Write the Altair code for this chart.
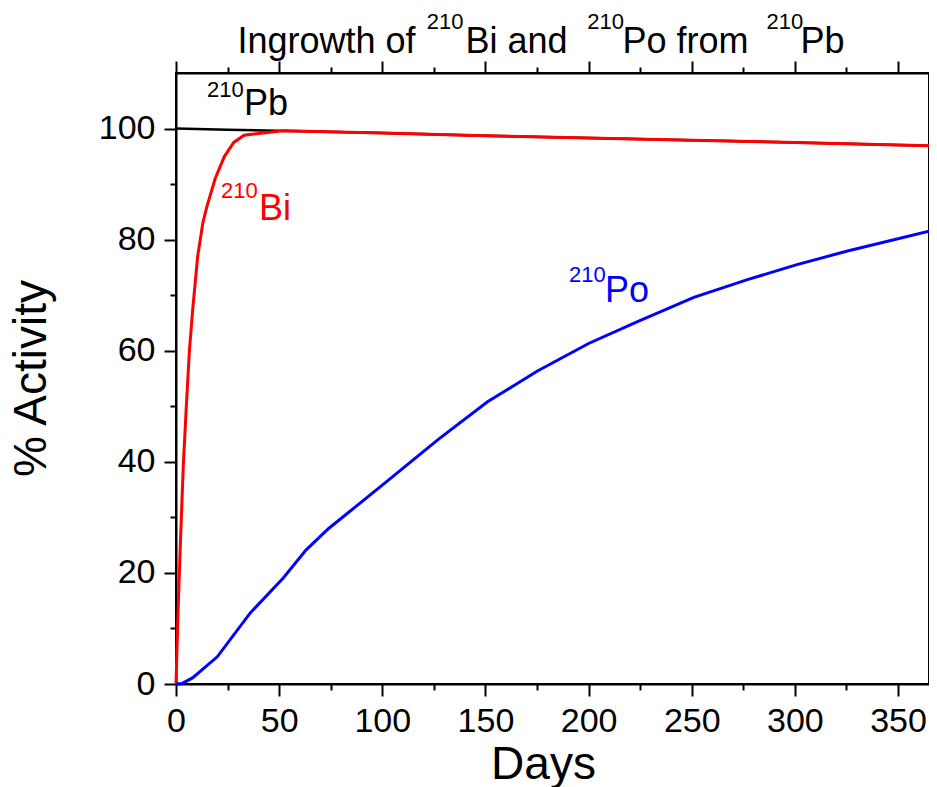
import altair as alt
import pandas as pd

# ---- data ----
pb_days = [0, 25, 50, 100, 150, 200, 250, 300, 365]
pb_pct = [100, 99.8, 99.6, 99.2, 98.7, 98.3, 97.9, 97.5, 96.9]

bi_days = [0, 1, 2, 3.5, 5, 6.5, 8, 10.5, 13, 15, 19, 23.5, 28, 33, 52, 100, 150, 200, 250, 300, 365]
bi_pct = [0, 13, 24, 39, 50, 60, 67, 77, 83, 86, 91, 95, 97.5, 98.8, 99.6, 99.2, 98.7, 98.3, 97.9, 97.5, 96.9]

po_days = [0, 3, 8, 14, 20, 36, 52, 63, 74, 100, 127, 151, 175, 200, 224, 251, 277, 301, 325, 365]
po_pct = [0, 0.1, 1.1, 3.0, 4.9, 12.8, 19.1, 24.1, 28.0, 35.8, 44, 50.8, 56.3, 61.3, 65.3, 69.6, 72.8, 75.5, 77.9, 81.5]

# title pieces (normal text + superscript mass numbers)
title_text = ["Ingrowth of", "210", "Bi and", "210", "Po from", "210", "Pb"]
title_day = [29.8, 121.6, 140.3, 199.4, 216.4, 286.2, 302.7]
title_pct = [113.6, 117.9, 113.6, 117.9, 113.6, 117.9, 113.6]
title_size = [36, 22, 36, 22, 36, 22, 36]

# in-plot series labels
label_text = ["210", "Pb", "210", "Bi", "210", "Po"]
label_day = [15.0, 33.0, 21.8, 40.2, 190.5, 208.0]
label_pct = [105.7, 102.4, 87.5, 83.5, 72.4, 68.8]
label_size = [22, 36, 22, 36, 22, 36]
label_color = ["black", "black", "red", "red", "blue", "blue"]

FONT = "Liberation Sans"

pb = pd.DataFrame({"day": pb_days, "pct": pb_pct})
bi = pd.DataFrame({"day": bi_days, "pct": bi_pct})
po = pd.DataFrame({"day": po_days, "pct": po_pct})
titles = pd.DataFrame({"day": title_day, "pct": title_pct, "text": title_text, "size": title_size})
labels = pd.DataFrame({"day": label_day, "pct": label_pct, "text": label_text,
                       "size": label_size, "color": label_color})

xscale = alt.Scale(domain=[0, 365], nice=False, zero=False)
yscale = alt.Scale(domain=[0, 110], nice=False, zero=False)

x_ticks = list(range(0, 351, 25))
y_ticks = list(range(0, 101, 10))

x_tick_size = {"condition": {"test": "datum.value % 50 === 0", "value": 12}, "value": 6}
y_tick_size = {"condition": {"test": "datum.value % 20 === 0", "value": 12}, "value": 6}

x_axis_bottom = alt.Axis(
    orient="bottom", values=x_ticks, format="d",
    labelExpr="datum.value % 50 === 0 ? datum.label : ''",
    tickSize=x_tick_size, labelPadding=8, labelOverlap=False, labelFlush=False,
    title="Days", titleFontSize=46, titleFont=FONT, titleFontWeight="normal",
    titleColor="black", titleX=367, titleY=94, titleAlign="center",
    titleBaseline="alphabetic",
)
x_axis_top = alt.Axis(
    orient="top", values=x_ticks, labels=False, title=None,
    tickSize=x_tick_size,
)
y_axis = alt.Axis(
    orient="left", values=y_ticks, format="d",
    labelExpr="datum.value % 20 === 0 ? datum.label : ''",
    tickSize=y_tick_size, labelPadding=9, labelOverlap=False, labelFlush=False,
    title="% Activity", titleFontSize=46, titleFont=FONT, titleFontWeight="normal",
    titleColor="black", titleAngle=270, titleX=-131, titleY=305,
    titleAlign="center", titleBaseline="alphabetic",
)

pb_line = alt.Chart(pb).mark_line(color="black", strokeWidth=2.5).encode(
    x=alt.X("day:Q", scale=xscale, axis=x_axis_bottom),
    y=alt.Y("pct:Q", scale=yscale, axis=y_axis),
)
bi_line = alt.Chart(bi).mark_line(color="#ff0000", strokeWidth=3).encode(
    x=alt.X("day:Q", scale=xscale, axis=x_axis_top),
    y=alt.Y("pct:Q", scale=yscale, axis=None),
)
po_line = alt.Chart(po).mark_line(color="#0000ff", strokeWidth=3).encode(
    x=alt.X("day:Q", scale=xscale, axis=None),
    y=alt.Y("pct:Q", scale=yscale, axis=None),
)
title_marks = alt.Chart(titles).mark_text(
    align="left", baseline="alphabetic", font=FONT, color="black"
).encode(
    x=alt.X("day:Q", scale=xscale, axis=None),
    y=alt.Y("pct:Q", scale=yscale, axis=None),
    text="text:N",
    size=alt.Size("size:Q", scale=None, legend=None),
)
label_marks = alt.Chart(labels).mark_text(
    align="left", baseline="alphabetic", font=FONT
).encode(
    x=alt.X("day:Q", scale=xscale, axis=None),
    y=alt.Y("pct:Q", scale=yscale, axis=None),
    text="text:N",
    size=alt.Size("size:Q", scale=None, legend=None),
    color=alt.Color("color:N", scale=None, legend=None),
)

chart = alt.layer(pb_line, bi_line, po_line, title_marks, label_marks).resolve_axis(
    x="independent", y="independent"
).properties(
    width=753, height=611,
    autosize=alt.AutoSizeParams(type="none"),
    padding={"left": 168, "top": 65, "right": 0, "bottom": 103},
    background="white",
).configure_view(
    stroke="black", strokeWidth=2
).configure_axis(
    grid=False, domainColor="black", domainWidth=2, tickColor="black", tickWidth=2,
    labelFont=FONT, labelFontSize=34, labelColor="black",
)

chart.save("out.html", embed_options={"renderer": "svg", "actions": False})
